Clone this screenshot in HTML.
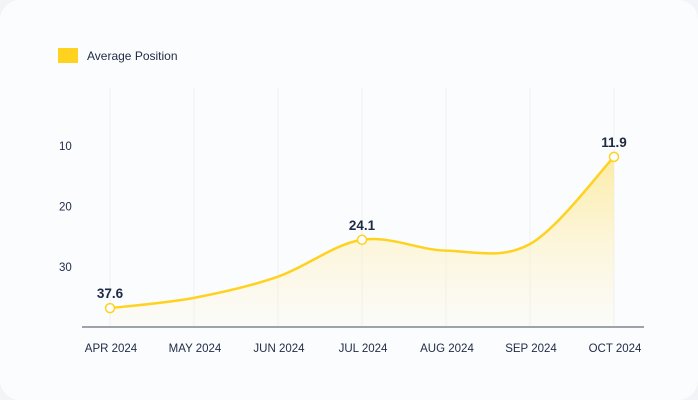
<!DOCTYPE html>
<html><head><meta charset="utf-8"><style>
html,body{margin:0;padding:0;background:#f3f4f7;}
body{width:698px;height:400px;overflow:hidden;font-family:"Liberation Sans",sans-serif;}
#card{position:absolute;left:0;top:0;width:698px;height:400px;background:#fbfcfe;border-radius:20px;}
svg{position:absolute;left:0;top:0;}
</style></head><body>
<div id="card">
<svg id="chart" width="698" height="400"></svg>
</div>
<script>
const categories=["APR 2024","MAY 2024","JUN 2024","JUL 2024","AUG 2024","SEP 2024","OCT 2024"];
const values=[36.8,35.1,31.6,25.5,27.3,26.2,11.8];
const labelValues=["37.6",null,null,"24.1",null,null,"11.9"];
const yTicks=[10,20,30];
const NS="http://www.w3.org/2000/svg";
const svg=document.getElementById('chart');
function x(i){return 110+i*84;}
function y(v){return 146+(v-10)*6.05;}
function mk(t,a,p){const e=document.createElementNS(NS,t);for(const k in a)e.setAttribute(k,a[k]);(p||svg).appendChild(e);return e;}
const defs=mk('defs',{});
const g=mk('linearGradient',{id:'fillg',x1:0,y1:0,x2:0,y2:1},defs);
mk('stop',{offset:'0','stop-color':'#fde68a','stop-opacity':'0.75'},g);
mk('stop',{offset:'1','stop-color':'#fdf3c4','stop-opacity':'0.1'},g);
// legend
const lr=mk('rect',{x:58,y:48,width:20,height:15,fill:'#ffd21f'});

const lt=mk('text',{x:87,y:60,'font-size':12,fill:'#1f2a44'});lt.textContent='Average Position';

// grid
categories.forEach((c,i)=>{
 const gl=mk('line',{x1:x(i),x2:x(i),y1:88,y2:326,stroke:'#eef0f3','stroke-width':1});
 
 const t=mk('text',{x:x(i)+1,y:352,'font-size':11.5,fill:'#1f2a44','text-anchor':'middle'});t.textContent=c;
 
});
yTicks.forEach(v=>{
 const t=mk('text',{x:59,y:y(v)+4,'font-size':11.5,fill:'#1f2a44'});t.textContent=v;
 
});
// curve (catmull-rom)
const pts=values.map((v,i)=>[x(i),y(v)]);
let d='M'+pts[0][0]+','+pts[0][1];
for(let i=0;i<pts.length-1;i++){
 const p0=pts[i-1]||pts[i],p1=pts[i],p2=pts[i+1],p3=pts[i+2]||p2;
 const c1=[p1[0]+(p2[0]-p0[0])/6,p1[1]+(p2[1]-p0[1])/6];
 const c2=[p2[0]-(p3[0]-p1[0])/6,p2[1]-(p3[1]-p1[1])/6];
 d+=` C${c1[0]},${c1[1]} ${c2[0]},${c2[1]} ${p2[0]},${p2[1]}`;
}
const area=mk('path',{d:d+` L${pts[pts.length-1][0]},326 L${pts[0][0]},326 Z`,fill:'url(#fillg)'});

const line=mk('path',{d:d,fill:'none',stroke:'#ffd21f','stroke-width':2.5});

const ax=mk('line',{x1:82,x2:644,y1:327,y2:327,stroke:'#9ea3ab','stroke-width':2});

labelValues.forEach((l,i)=>{
 if(l===null)return;
 const c=mk('circle',{cx:x(i),cy:y(values[i]),r:4.5,fill:'#fff',stroke:'#ffd21f','stroke-width':1.5});
 
 const t=mk('text',{x:x(i),y:y(values[i])-10,'font-size':13.5,'font-weight':'bold',fill:'#1f2a44','text-anchor':'middle'});t.textContent=l;
 
});
</script>
</body></html>
